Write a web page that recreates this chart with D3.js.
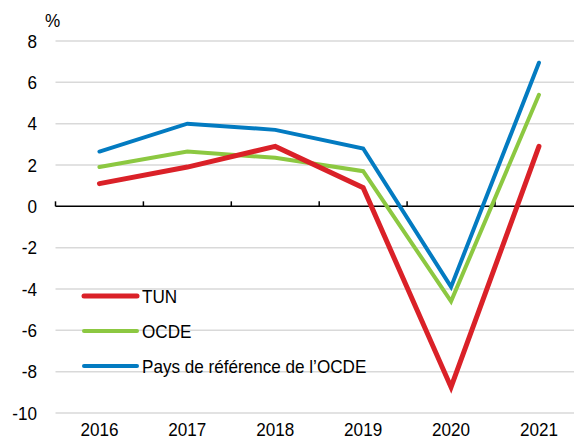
<!DOCTYPE html>
<html>
<head>
<meta charset="utf-8">
<script src="https://cdn.jsdelivr.net/npm/d3@7"></script>
<style>
body { margin: 0; background: #fff; }
text { font-family: "Liberation Sans Narrow", "Arial Narrow", "Liberation Sans", sans-serif; fill: #000; }
</style>
</head>
<body>
<svg id="chart" width="574" height="439"></svg>
<script>
var years = ["2016", "2017", "2018", "2019", "2020", "2021"];
var tun = [1.1, 1.9, 2.9, 0.9, -8.75, 2.9];
var ocde = [1.9, 2.65, 2.35, 1.7, -4.6, 5.4];
var ref = [2.65, 4.0, 3.7, 2.8, -3.9, 6.95];
var yTicks = [8, 6, 4, 2, 0, -2, -4, -6, -8, -10];

var series = [
	{ name: "TUN", values: tun, color: "#DA2128" },
	{ name: "OCDE", values: ocde, color: "#8CC841" },
	{ name: "Pays de référence de l’OCDE", values: ref, color: "#037BC1" }
];

var svg = d3.select("#chart");
var left = 55.5, band = 87.9;

var x = d3.scaleBand().domain(years).range([left, left + band * years.length]);
var y = d3.scaleLinear().domain([-10, 8]).range([413, 41]);

// squeeze text a bit, the original uses a narrow font
function narrow(sel) {
	sel.style("font-size", "19px")
		.attr("lengthAdjust", "spacingAndGlyphs")
		.attr("textLength", function () { return this.getComputedTextLength() * 0.9; });
}

// grid
svg.append("g").selectAll("line")
	.data(yTicks.filter(function (d) { return d !== 0; }))
	.enter().append("line")
	.attr("x1", left).attr("x2", 574)
	.attr("y1", function (d) { return y(d); })
	.attr("y2", function (d) { return y(d); })
	.style("stroke", "#d9d9d9").style("stroke-width", 1.5);

// y labels
svg.append("g").selectAll("text")
	.data(yTicks).enter().append("text")
	.attr("x", 37).attr("y", function (d) { return y(d); })
	.attr("dy", "0.35em")
	.attr("text-anchor", "end")
	.text(function (d) { return d; })
	.call(narrow);

svg.append("text").attr("x", 45).attr("y", 27).text("%").call(narrow);

// zero axis
svg.append("line")
	.attr("x1", left).attr("x2", 574)
	.attr("y1", y(0)).attr("y2", y(0))
	.style("stroke", "#000").style("stroke-width", 1.5);
svg.append("g").selectAll("line")
	.data(years).enter().append("line")
	.attr("x1", function (d) { return x(d); })
	.attr("x2", function (d) { return x(d); })
	.attr("y1", y(0)).attr("y2", y(0) - 5)
	.style("stroke", "#000").style("stroke-width", 1.5);

// x labels
svg.append("g").selectAll("text")
	.data(years).enter().append("text")
	.attr("x", function (d) { return x(d) + x.bandwidth() / 2; })
	.attr("y", 436)
	.attr("text-anchor", "middle")
	.text(function (d) { return d; })
	.call(narrow);

// lines
var line = d3.line()
	.x(function (d, i) { return x(years[i]) + x.bandwidth() / 2; })
	.y(function (d) { return y(d); });

series.slice().reverse().forEach(function (s) {
	svg.append("path")
		.attr("d", line(s.values))
		.style("fill", "none")
		.style("stroke", s.color)
		.style("stroke-width", s.name === "TUN" ? 5 : 4)
		.style("stroke-linejoin", "miter")
		.style("stroke-linecap", "round");
});

// legend
var legend = svg.append("g").selectAll("g")
	.data(series).enter().append("g")
	.attr("transform", function (d, i) { return "translate(84," + (296 + i * 35) + ")"; });
legend.append("line")
	.attr("x1", 0).attr("x2", 53)
	.style("stroke", function (d) { return d.color; })
	.style("stroke-width", function (d) { return d.name === "TUN" ? 5 : 4; })
	.style("stroke-linecap", "round");
legend.append("text")
	.attr("x", 58).attr("dy", "0.35em")
	.text(function (d) { return d.name; })
	.call(narrow);
</script>
</body>
</html>
